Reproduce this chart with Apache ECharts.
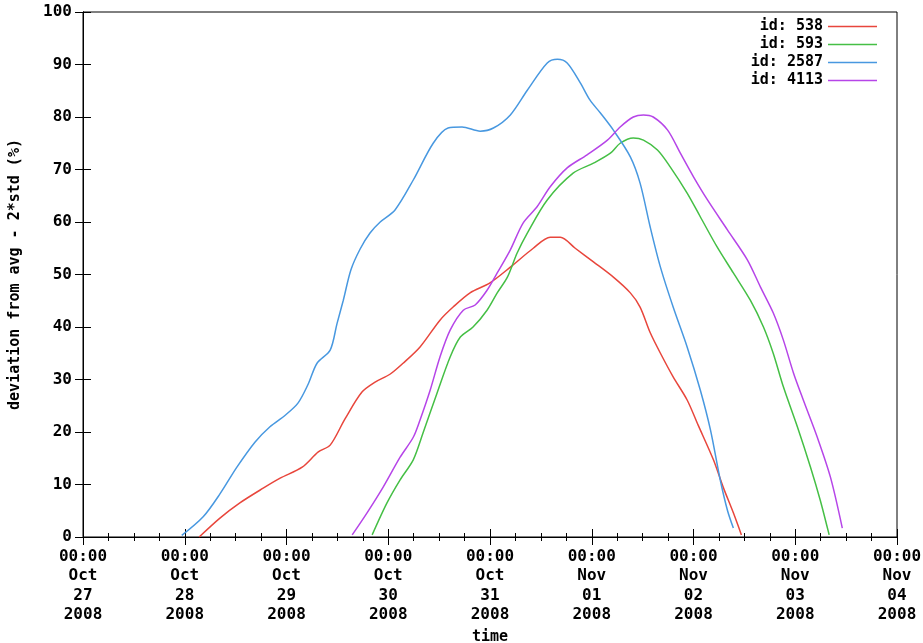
<!DOCTYPE html>
<html>
<head>
<meta charset="utf-8">
<script src="https://cdn.jsdelivr.net/npm/echarts@6/dist/echarts.min.js"></script>
<style>
  html, body { margin: 0; padding: 0; background: #fff; }
  #chart { width: 923px; height: 643px; }
</style>
</head>
<body>
<div id="chart"></div>
<script>
// hours since 2008-10-27 00:00, values in %
const xTickLabels = [
  '00:00\nOct\n27\n2008', '00:00\nOct\n28\n2008', '00:00\nOct\n29\n2008',
  '00:00\nOct\n30\n2008', '00:00\nOct\n31\n2008', '00:00\nNov\n01\n2008',
  '00:00\nNov\n02\n2008', '00:00\nNov\n03\n2008', '00:00\nNov\n04\n2008'
]

const hours538 = [27.4, 32.3, 37.0, 42.5, 46.5, 51.7, 55.5, 58.3, 61.8, 65.8, 68.9, 72.4, 75.5, 79.5, 84.2, 87.3, 91.3, 96.0, 100.8, 106.2, 110.2, 112.6, 116.1, 120.4, 125.1, 129.1, 131.4, 133.8, 136.2, 139.2, 142.5, 145.1, 148.7, 151.0, 153.4, 155.3]
const vals538 = [0, 3.6, 6.5, 9.3, 11.2, 13.3, 16.2, 17.5, 22.5, 27.6, 29.5, 31.0, 33.1, 36.2, 41.3, 43.8, 46.5, 48.4, 51.4, 55.0, 57.1, 57.1, 55.0, 52.4, 49.5, 46.5, 43.8, 38.9, 35.0, 30.5, 26.1, 21.3, 14.7, 9.5, 4.6, 0.4]

const hours593 = [68.2, 71.7, 74.8, 77.9, 80.2, 83.5, 86.6, 89.0, 92.0, 95.3, 97.7, 100.1, 102.4, 104.8, 109.5, 115.6, 120.4, 124.4, 126.7, 129.8, 132.2, 135.5, 138.5, 142.5, 145.6, 149.6, 153.4, 157.4, 160.5, 162.8, 165.2, 168.5, 171.6, 173.9, 176.0]
const vals593 = [0.4, 6.5, 10.9, 14.7, 19.8, 27.4, 34.3, 38.1, 40.0, 43.2, 46.5, 49.5, 54.1, 57.9, 64.2, 69.3, 71.2, 73.1, 75.0, 76.0, 75.6, 73.7, 70.5, 65.5, 61.0, 55.2, 50.3, 45.1, 40.0, 35.0, 28.6, 21.0, 13.3, 7.0, 0.4]

const hours2587 = [23.3, 28.4, 32.3, 36.3, 40.6, 44.1, 47.7, 50.7, 53.1, 55.2, 58.3, 59.9, 61.4, 63.2, 65.4, 67.7, 70.1, 73.6, 77.9, 82.6, 86.1, 89.4, 93.7, 96.8, 100.8, 104.8, 109.5, 111.9, 114.2, 117.3, 119.6, 122.0, 125.1, 129.1, 131.4, 133.8, 136.2, 139.2, 142.5, 145.6, 148.0, 150.3, 152.0, 153.4]
const vals2587 = [0.3, 3.9, 8.2, 13.3, 18.1, 21.0, 23.2, 25.5, 29.1, 33.1, 35.6, 40.6, 45.1, 50.9, 54.9, 57.9, 60.0, 62.3, 68.0, 75.0, 77.9, 78.1, 77.3, 77.9, 80.4, 85.1, 90.3, 91.0, 90.3, 86.5, 83.2, 80.8, 77.5, 72.4, 67.4, 59.0, 51.4, 43.8, 36.2, 28.0, 20.4, 10.9, 5.1, 1.7]

const hours4113 = [63.5, 67.0, 70.8, 74.8, 77.9, 79.5, 81.9, 84.2, 86.6, 89.7, 92.5, 95.3, 97.7, 100.8, 103.8, 107.1, 110.2, 114.2, 118.9, 123.7, 126.7, 129.8, 132.2, 134.5, 137.9, 140.9, 144.0, 147.3, 152.0, 156.7, 159.8, 162.8, 165.2, 167.6, 169.9, 173.2, 176.3, 179.1]
const vals4113 = [0.4, 4.6, 9.5, 15.2, 19.0, 22.3, 28.0, 34.3, 39.4, 43.2, 44.2, 47.0, 50.3, 54.7, 59.8, 62.9, 66.7, 70.3, 72.8, 75.6, 78.1, 80.0, 80.4, 80.0, 77.5, 73.1, 68.6, 64.2, 58.5, 52.8, 47.6, 42.7, 37.5, 31.2, 26.1, 19.0, 11.4, 1.7]

const seriesNames = ['id: 538', 'id: 593', 'id: 2587', 'id: 4113']
const seriesColors = ['#e8463c', '#45bf45', '#4898e0', '#b645e8']

const zip = (xs, ys) => xs.map((x, i) => [x, ys[i]])
const seriesData = [
  zip(hours538, vals538),
  zip(hours593, vals593),
  zip(hours2587, vals2587),
  zip(hours4113, vals4113)
]

const font = 'DejaVu Sans Mono'
const labelStyle = { fontFamily: font, fontWeight: 'bold', fontSize: 15, color: '#000' }
const tickStyle = Object.assign({}, labelStyle, { fontSize: 16 })

const chart = echarts.init(document.getElementById('chart'), null, { renderer: 'canvas' })

const xBase = {
  type: 'value',
  min: 0,
  max: 192,
  interval: 24,
  axisLine: { show: true, lineStyle: { color: '#000', width: 1 } },
  axisTick: { show: true, inside: true, length: 8, lineStyle: { color: '#000', width: 1 } },
  minorTick: { show: true, splitNumber: 4, length: 4, lineStyle: { color: '#000', width: 1 } },
  splitLine: { show: false }
}
const yBase = {
  type: 'value',
  min: 0,
  max: 100,
  interval: 10,
  axisLine: { show: true, lineStyle: { color: '#000', width: 1 } },
  axisTick: { show: true, inside: true, length: 8, lineStyle: { color: '#000', width: 1 } },
  splitLine: { show: false }
}

chart.setOption({
  animation: false,
  backgroundColor: '#fff',
  grid: {
    left: 83,
    right: 26,
    top: 12,
    bottom: 106,
    containLabel: false,
    outerBoundsMode: 'none',
    show: true,
    borderColor: '#000',
    borderWidth: 1
  },
  legend: {
    orient: 'vertical',
    right: 46,
    top: 18,
    padding: 0,
    align: 'right',
    icon: 'path://M0,0H49V1.5H0Z',
    itemWidth: 49,
    itemHeight: 1.5,
    itemGap: 1,
    formatter: name => name.padStart(8, ' '),
    textStyle: Object.assign({}, labelStyle, { lineHeight: 17 }),
    data: seriesNames
  },
  xAxis: [
    Object.assign({}, xBase, {
      position: 'bottom',
      name: 'time',
      nameLocation: 'middle',
      nameGap: 87,
      nameTextStyle: labelStyle,
      axisLabel: Object.assign({}, tickStyle, {
        margin: 10,
        lineHeight: 19.5,
        showMinLabel: true,
        showMaxLabel: true,
        formatter: v => xTickLabels[Math.round(v / 24)]
      })
    }),
    Object.assign({}, xBase, {
      position: 'top',
      axisLabel: { show: false }
    })
  ],
  yAxis: [
    Object.assign({}, yBase, {
      position: 'left',
      name: 'deviation from avg - 2*std (%)',
      nameLocation: 'middle',
      nameGap: 60,
      nameTextStyle: labelStyle,
      axisLabel: Object.assign({}, tickStyle, { margin: 11 })
    }),
    Object.assign({}, yBase, {
      position: 'right',
      axisLabel: { show: false }
    })
  ],
  series: seriesNames.map((name, i) => ({
    name: name,
    type: 'line',
    xAxisIndex: 0,
    yAxisIndex: 0,
    data: seriesData[i],
    symbol: 'none',
    smooth: 0.3,
    color: seriesColors[i],
    lineStyle: { color: seriesColors[i], width: 1.5 }
  }))
})
</script>
</body>
</html>
